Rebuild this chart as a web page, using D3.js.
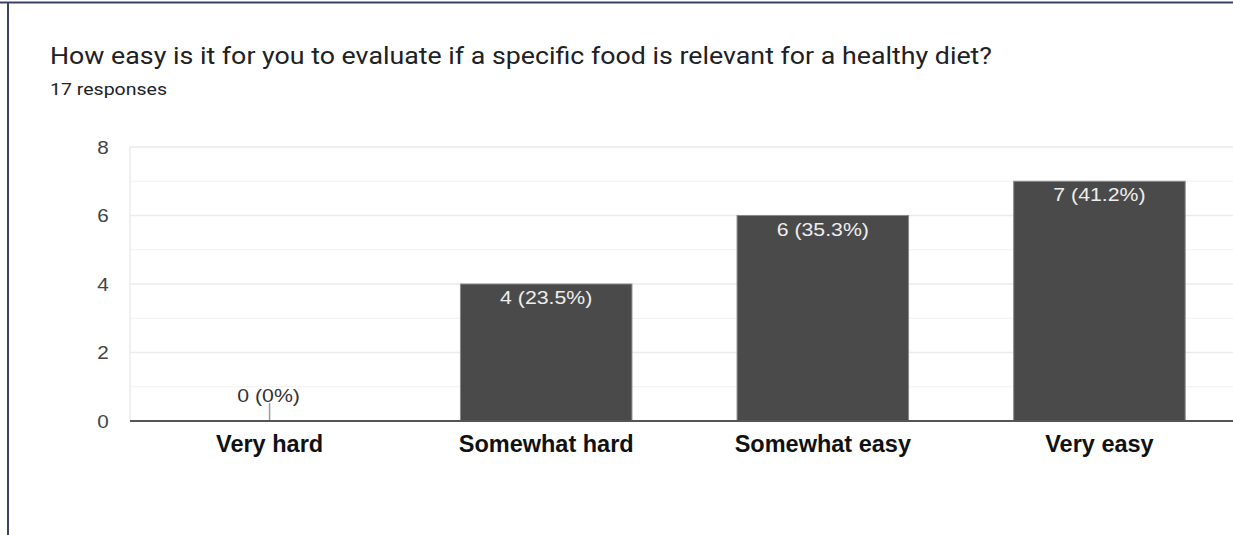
<!DOCTYPE html>
<html>
<head>
<meta charset="utf-8">
<script src="https://cdn.jsdelivr.net/npm/d3@7"></script>
<style>
  html, body { margin: 0; padding: 0; background: #fff; }
  svg { display: block; }
</style>
</head>
<body>
<svg id="chart" width="1233" height="535"></svg>
<script>
// Survey question and answers
const title = "How easy is it for you to evaluate if a specific food is relevant for a healthy diet?";
const subtitle = "17 responses";
const categories = ["Very hard", "Somewhat hard", "Somewhat easy", "Very easy"];
const counts = [0, 4, 6, 7];
const percents = ["0%", "23.5%", "35.3%", "41.2%"];
const yTicks = [0, 2, 4, 6, 8];
const yMinorTicks = [1, 3, 5, 7];

const svg = d3.select("#chart");
const W = 1233, H = 535;
const plot = { left: 130, right: 1240, top: 147, bottom: 421 };

// Card frame: top and left edges
svg.append("line").attr("x1", 0).attr("x2", W).attr("y1", 2.5).attr("y2", 2.5)
  .attr("stroke", "#3c4260").attr("stroke-width", 2);
svg.append("line").attr("x1", 8).attr("x2", 8).attr("y1", 2).attr("y2", H)
  .attr("stroke", "#3c4260").attr("stroke-width", 2);

// Heading
svg.append("text").attr("x", 50).attr("y", 63.5)
  .attr("font-family", "Roboto, sans-serif").attr("font-size", 23)
  .attr("fill", "#202124")
  .attr("textLength", 942).attr("lengthAdjust", "spacingAndGlyphs")
  .text(title);
svg.append("text").attr("x", 50).attr("y", 94.5)
  .attr("font-family", "Roboto, sans-serif").attr("font-size", 17)
  .attr("fill", "#202124")
  .attr("textLength", 117).attr("lengthAdjust", "spacingAndGlyphs")
  .text(subtitle);

// Scales
const y = d3.scaleLinear().domain([0, 8]).range([plot.bottom, plot.top]);
const x = d3.scaleBand().domain(categories)
  .range([128.5, 1240.5]).paddingInner(0.38).paddingOuter(0.2);

// Gridlines
const g = svg.append("g");
g.selectAll("line.minor").data(yMinorTicks).join("line")
  .attr("class", "minor")
  .attr("x1", plot.left).attr("x2", W)
  .attr("y1", d => y(d)).attr("y2", d => y(d))
  .attr("stroke", "#f1f1f1").attr("stroke-width", 1.2);
g.selectAll("line.major").data(yTicks.filter(d => d > 0)).join("line")
  .attr("class", "major")
  .attr("x1", plot.left).attr("x2", W)
  .attr("y1", d => y(d)).attr("y2", d => y(d))
  .attr("stroke", "#ebebeb").attr("stroke-width", 1.5);
g.append("line").attr("x1", plot.left).attr("x2", plot.left)
  .attr("y1", y(8)).attr("y2", y(0))
  .attr("stroke", "#ebebeb").attr("stroke-width", 1.5);

// Y axis labels
const yAxis = svg.append("g")
  .attr("transform", `translate(${plot.left - 20},0)`)
  .call(d3.axisLeft(y).tickValues(yTicks).tickSize(0).tickPadding(0));
yAxis.select(".domain").remove();
yAxis.selectAll("text")
  .attr("font-family", "'Liberation Sans', Arial, sans-serif")
  .attr("font-size", 18).attr("fill", "#444")
  .attr("dy", "0.36em")
  .attr("transform", "scale(1.15,1)")
  .attr("x", -1);

// Bars
svg.selectAll("rect.bar").data(categories).join("rect")
  .attr("class", "bar")
  .attr("x", d => x(d))
  .attr("width", x.bandwidth())
  .attr("y", (d, i) => y(counts[i]))
  .attr("height", (d, i) => y(0) - y(counts[i]))
  .attr("fill", "#4a4a4a")
  .attr("stroke", "#8a8a8a").attr("stroke-width", 1);

// Value labels: inside the bar top, or above the axis with a stub for zero
categories.forEach((c, i) => {
  const cx = x(c) + x.bandwidth() / 2;
  const label = `${counts[i]} (${percents[i]})`;
  if (counts[i] > 0) {
    svg.append("text")
      .attr("transform", `translate(${cx},${y(counts[i]) + 20}) scale(1.15,1)`)
      .attr("text-anchor", "middle")
      .attr("font-family", "'Liberation Sans', Arial, sans-serif")
      .attr("font-size", 18.5).attr("fill", "#eeeeee")
      .text(label);
  } else {
    svg.append("line").attr("x1", cx).attr("x2", cx)
      .attr("y1", y(0) - 18).attr("y2", y(0))
      .attr("stroke", "#9a9a9a").attr("stroke-width", 1.5);
    svg.append("text")
      .attr("transform", `translate(${cx - 1},${y(0) - 19.5}) scale(1.15,1)`)
      .attr("text-anchor", "middle")
      .attr("font-family", "'Liberation Sans', Arial, sans-serif")
      .attr("font-size", 18.5).attr("fill", "#333")
      .text(label);
  }
});

// Baseline
svg.append("line").attr("x1", plot.left).attr("x2", W)
  .attr("y1", y(0)).attr("y2", y(0))
  .attr("stroke", "#555").attr("stroke-width", 2);

// Category labels
const xAxis = svg.append("g")
  .attr("transform", `translate(0,${plot.bottom})`)
  .call(d3.axisBottom(x).tickSize(0).tickPadding(0));
xAxis.select(".domain").remove();
xAxis.selectAll("text")
  .attr("y", 31).attr("dy", 0)
  .attr("font-family", "'Liberation Sans', Arial, sans-serif")
  .attr("font-weight", "bold")
  .attr("font-size", 23.5).attr("fill", "#111");
</script>
</body>
</html>
